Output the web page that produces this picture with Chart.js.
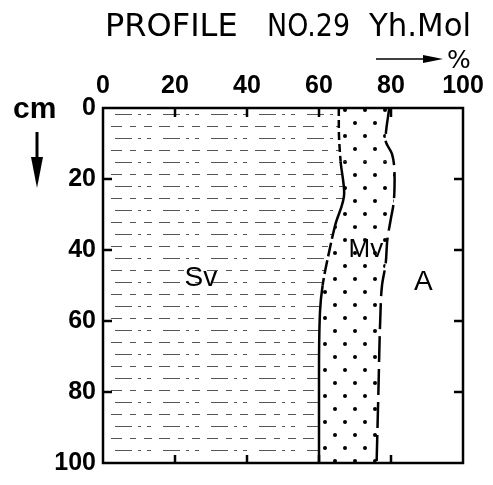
<!DOCTYPE html>
<html>
<head>
<meta charset="utf-8">
<script src="https://cdn.jsdelivr.net/npm/chart.js@4/dist/chart.umd.min.js"></script>
<style>
  html, body { margin: 0; padding: 0; background: #fff; }
</style>
</head>
<body>
<canvas id="profile" width="493" height="485"></canvas>
<script>
// diepte in cm, grens in %
const depthSv = [0, 5, 15, 24, 33, 42, 50, 57, 75, 100];
const boundarySv = [65.5, 65.5, 66, 67, 64.5, 62.5, 61, 60.3, 60, 60];
const depthMv = [0, 9, 13, 20, 27, 31, 37, 44, 50, 60, 80, 100];
const boundaryMv = [79.5, 78.5, 80.3, 81, 80.7, 80, 79, 78.5, 77.5, 77, 76.5, 76];
const xTicks = [0, 20, 40, 60, 80, 100];
const yTicks = [0, 20, 40, 60, 80, 100];
const regionNames = ['Sv', 'Mv', 'A'];
const titleWords = ['PROFILE', 'NO.29', 'Yh.Mol'];

// streepjes-arcering voor Sv
function hatchPattern() {
    const c = document.createElement('canvas');
    c.width = 48; c.height = 24;
    const g = c.getContext('2d');
    g.strokeStyle = '#555';
    g.lineWidth = 1;
    const rows = [
        [6.5, [[0, 8], [15, 26], [34, 40]]],
        [18.5, [[3, 7], [19, 36], [42, 45]]],
    ];
    rows.forEach(([y, segs]) => {
        segs.forEach(([a, b]) => {
            g.beginPath(); g.moveTo(a, y); g.lineTo(b, y); g.stroke();
        });
    });
    return g.createPattern(c, 'repeat');
}

// stippen voor Mv
function dotPattern() {
    const c = document.createElement('canvas');
    c.width = 20; c.height = 26;
    const g = c.getContext('2d');
    g.fillStyle = '#000';
    [[5, 6], [15, 19]].forEach(([x, y]) => {
        g.beginPath(); g.arc(x, y, 2, 0, Math.PI * 2); g.fill();
    });
    return g.createPattern(c, 'repeat');
}

// kader, ticks naar binnen en teksten
const frame = {
    id: 'frame',
    afterDraw(chart) {
        const {ctx, chartArea: a, scales: {x, y}} = chart;
        ctx.save();
        ctx.strokeStyle = '#000';
        ctx.lineWidth = 2.5;
        ctx.strokeRect(a.left, a.top, a.right - a.left, a.bottom - a.top);

        xTicks.slice(1, -1).forEach(v => {
            const px = x.getPixelForValue(v);
            ctx.beginPath();
            ctx.moveTo(px, a.top); ctx.lineTo(px, a.top + 9);
            ctx.moveTo(px, a.bottom); ctx.lineTo(px, a.bottom - 8);
            ctx.stroke();
        });
        yTicks.slice(1, -1).forEach(v => {
            const py = y.getPixelForValue(v);
            ctx.beginPath();
            ctx.moveTo(a.left, py); ctx.lineTo(a.left + 9, py);
            ctx.moveTo(a.right, py); ctx.lineTo(a.right - 9, py);
            ctx.stroke();
        });

        // titel, woord voor woord
        ctx.fillStyle = '#000';
        ctx.textAlign = 'left';
        ctx.textBaseline = 'alphabetic';
        ctx.font = '32px "DejaVu Sans"';
        const wordPos = [[105, 133], [267, 83], [369, 102]];
        titleWords.forEach((w, i) => ctx.fillText(w, wordPos[i][0], 36, wordPos[i][1]));

        // pijl naar %
        ctx.lineWidth = 1.5;
        ctx.beginPath(); ctx.moveTo(376, 59); ctx.lineTo(428, 59); ctx.stroke();
        ctx.beginPath(); ctx.moveTo(443, 59); ctx.lineTo(423, 55); ctx.lineTo(423, 63); ctx.closePath(); ctx.fill();
        ctx.font = '25px "DejaVu Sans"';
        ctx.fillText('%', 447, 68, 26);

        // cm en pijl omlaag
        ctx.font = 'bold 30px "Liberation Sans"';
        ctx.fillText('cm', 13, 118);
        ctx.lineWidth = 3;
        ctx.beginPath(); ctx.moveTo(37, 132); ctx.lineTo(37, 165); ctx.stroke();
        ctx.beginPath(); ctx.moveTo(37, 188); ctx.lineTo(31, 157); ctx.lineTo(43, 157); ctx.closePath(); ctx.fill();

        // namen van de lagen
        const spots = [[27.2, 48, 28], [73, 40, 26], [89, 49, 28]];
        ctx.textAlign = 'center';
        ctx.textBaseline = 'middle';
        regionNames.forEach((n, i) => {
            ctx.font = spots[i][2] + 'px "Liberation Sans"';
            ctx.fillText(n, x.getPixelForValue(spots[i][0]), y.getPixelForValue(spots[i][1]));
        });
        ctx.restore();
    }
};

const tickFont = {family: '"Liberation Sans", Arial, sans-serif', size: 25, weight: 'bold'};

// onderbroken stukken van de Sv-grens
const svDash = ctx => {
    const d = ctx.p0.parsed.y;
    if (d < 15) return [8, 4];
    if (d >= 33 && d < 50) return [14, 4];
    return undefined;
};

new Chart(document.getElementById('profile').getContext('2d'), {
    type: 'line',
    data: {
        datasets: [
            {
                label: 'Sv',
                data: depthSv.map((d, i) => ({x: boundarySv[i], y: d})),
                borderColor: '#000',
                borderWidth: 2.5,
                backgroundColor: hatchPattern(),
                fill: {value: 0},
                pointRadius: 0,
                cubicInterpolationMode: 'monotone',
                segment: {borderDash: svDash},
            },
            {
                label: 'Mv',
                data: depthMv.map((d, i) => ({x: boundaryMv[i], y: d})),
                borderColor: '#000',
                borderWidth: 2.5,
                borderDash: [26, 7],
                backgroundColor: dotPattern(),
                fill: '-1',
                pointRadius: 0,
                cubicInterpolationMode: 'monotone',
            },
        ],
    },
    options: {
        indexAxis: 'y',
        responsive: false,
        animation: false,
        layout: {padding: {left: 0, top: 0, right: 30, bottom: 15}},
        plugins: {
            legend: {display: false},
            tooltip: {enabled: false},
        },
        scales: {
            x: {
                type: 'linear',
                position: 'top',
                min: 0, max: 100,
                afterBuildTicks: s => { s.ticks = xTicks.map(v => ({value: v})); },
                ticks: {color: '#000', font: tickFont, padding: 7, maxRotation: 0},
                grid: {display: false, drawTicks: false},
                border: {display: false},
                afterFit: s => { s.height = 108; },
            },
            y: {
                type: 'linear',
                reverse: true,
                min: 0, max: 100,
                afterBuildTicks: s => { s.ticks = yTicks.map(v => ({value: v})); },
                ticks: {color: '#000', font: tickFont, padding: 7},
                grid: {display: false, drawTicks: false},
                border: {display: false},
                afterFit: s => { s.width = 103; },
            },
        },
    },
    plugins: [frame],
});
</script>
</body>
</html>
